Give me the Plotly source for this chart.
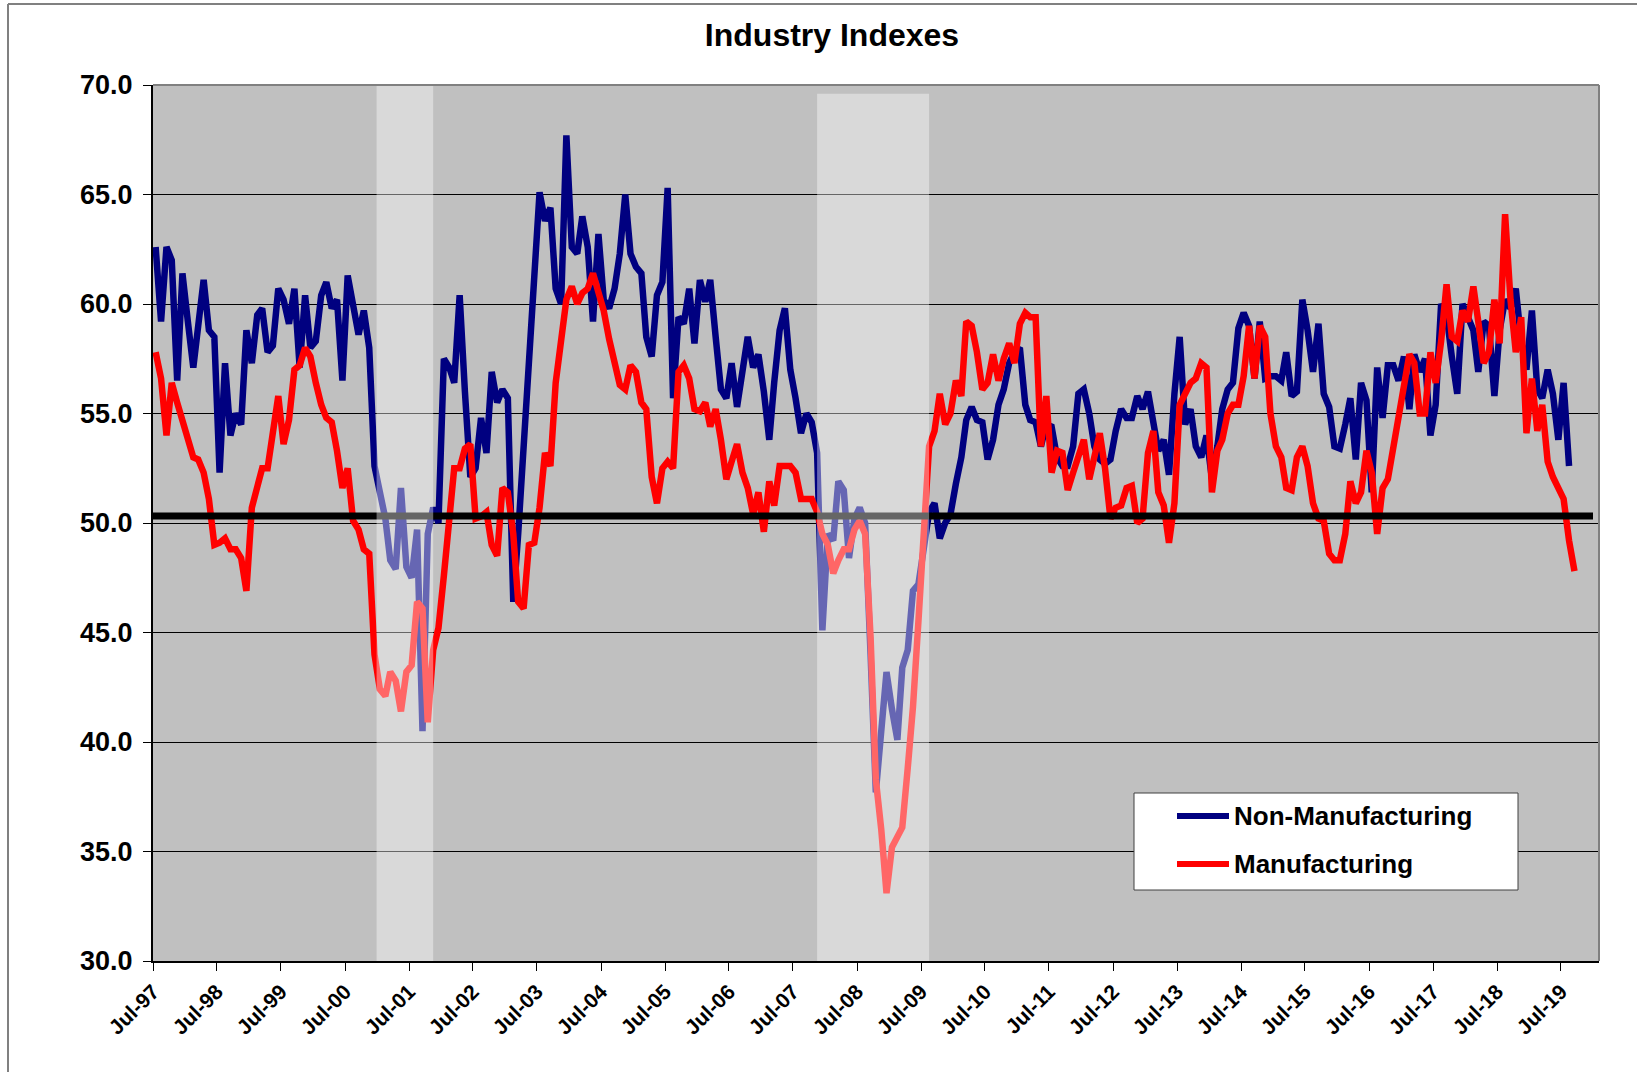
import pandas as pd
import plotly.graph_objects as go

# ---------------- data ----------------
start_month = "1997-07-01"

non_mfg = [
    62.6, 59.2, 62.6, 62.0, 56.5, 61.4, 59.2, 57.1, 59.0, 61.1,
    58.8, 58.5, 52.3, 57.3, 54.0, 55.0, 54.5, 58.8, 57.3, 59.5,
    59.8, 57.8, 58.1, 60.7, 60.2, 59.1, 60.7, 57.1, 60.4, 58.0,
    58.3, 60.4, 61.0, 59.8, 60.2, 56.5, 61.3, 60.0, 58.6, 59.7,
    58.0, 52.6, 51.4, 50.2, 48.3, 47.9, 51.6, 48.0, 47.5, 49.7,
    40.5, 49.5, 50.7, 50.0, 57.5, 57.1, 56.4, 60.4, 56.0, 52.1,
    52.5, 54.8, 53.2, 56.9, 55.5, 56.1, 55.7, 46.4, 49.5, 53.5,
    57.5, 61.0, 65.1, 63.8, 64.4, 60.7, 60.0, 67.7, 62.6, 62.3,
    64.0, 62.6, 59.2, 63.2, 60.2, 59.8, 60.7, 62.3, 65.0, 62.3,
    61.7, 61.4, 58.5, 57.6, 60.4, 61.0, 65.3, 55.7, 59.4, 59.1,
    60.7, 58.2, 61.1, 60.1, 61.1, 58.5, 56.1, 55.7, 57.3, 55.3,
    57.2, 58.5, 57.1, 57.7, 56.0, 53.8, 56.4, 58.8, 59.8, 57.0,
    55.7, 54.1, 55.0, 54.6, 53.2, 45.1, 49.5, 49.2, 51.9, 51.5,
    48.4, 50.2, 50.7, 50.0, 44.0, 37.7, 40.5, 43.2, 41.5, 40.1,
    43.4, 44.2, 46.9, 47.2, 48.8, 50.5, 50.9, 49.3, 50.0, 50.4,
    51.8, 53.0, 54.7, 55.3, 54.7, 54.6, 52.9, 53.8, 55.4, 56.1,
    57.3, 57.8, 58.0, 55.4, 54.7, 54.6, 53.5, 54.5, 54.4, 53.0,
    52.6, 52.6, 53.5, 55.9, 56.1, 55.0, 53.5, 52.9, 52.7, 52.9,
    54.2, 55.2, 54.8, 54.8, 55.8, 55.2, 56.0, 54.7, 53.3, 53.8,
    52.2, 55.9, 58.5, 54.5, 55.2, 53.5, 53.0, 54.0, 52.0, 53.5,
    55.2, 56.1, 56.4, 58.9, 59.6, 59.0, 56.6, 59.2, 56.6, 56.7,
    56.7, 56.5, 57.8, 55.8, 56.0, 60.2, 58.8, 56.9, 59.1, 55.9,
    55.3, 53.5, 53.4, 54.5, 55.7, 52.9, 56.4, 55.6, 51.4, 57.1,
    54.8, 57.2, 57.2, 56.5, 57.6, 55.2, 57.7, 56.9, 57.5, 54.0,
    55.4, 60.0, 59.5, 57.6, 55.9, 60.0, 59.4, 58.8, 56.9, 59.2,
    59.0, 55.8, 58.8, 60.2, 59.8, 60.7, 58.3, 57.0, 59.7, 56.1,
    55.7, 57.0, 55.9, 53.8, 56.4, 52.6,
]

mfg = [
    57.8, 56.6, 54.0, 56.4, 55.5, 54.7, 53.8, 53.0, 52.9, 52.3,
    51.1, 49.0, 49.1, 49.3, 48.8, 48.8, 48.4, 46.9, 50.7, 51.6,
    52.5, 52.5, 54.2, 55.8, 53.6, 54.7, 57.0, 57.2, 58.0, 57.6,
    56.4, 55.4, 54.8, 54.6, 53.3, 51.6, 52.5, 50.1, 49.7, 48.8,
    48.6, 44.0, 42.4, 42.1, 43.2, 42.8, 41.4, 43.2, 43.5, 46.4,
    46.1, 40.9, 44.2, 45.2, 47.6, 50.4, 52.5, 52.5, 53.4, 53.6,
    50.2, 50.3, 50.5, 49.0, 48.5, 51.6, 51.4, 49.5, 46.4, 46.1,
    49.0, 49.1, 50.7, 53.2, 52.6, 56.4, 58.5, 60.2, 60.8, 60.0,
    60.5, 60.7, 61.4, 60.5, 59.7, 58.4, 57.2, 56.3, 56.1, 57.2,
    56.9, 55.5, 55.2, 52.1, 50.9, 52.5, 52.8, 52.5, 56.9, 57.2,
    56.6, 55.2, 55.1, 55.5, 54.4, 55.2, 53.8, 52.0, 52.8, 53.6,
    52.3, 51.6, 50.4, 51.4, 49.6, 51.9, 50.8, 52.6, 52.6, 52.6,
    52.3, 51.1, 51.1, 51.1, 50.5, 49.5, 49.0, 47.7, 48.3, 48.8,
    48.8, 49.7, 50.1, 49.5, 44.8, 38.3, 36.0, 33.1, 35.2, 35.6,
    36.1, 38.8, 41.6, 45.5, 49.5, 53.5, 54.2, 55.9, 54.5, 55.0,
    56.5, 55.8, 59.2, 59.0, 57.8, 56.1, 56.4, 57.7, 56.5, 57.5,
    58.2, 57.3, 59.1, 59.6, 59.4, 59.4, 53.5, 55.8, 52.3, 53.3,
    53.2, 51.5, 52.3, 53.0, 53.8, 52.0, 53.0, 54.1, 52.5, 50.2,
    50.7, 50.8, 51.6, 51.7, 50.0, 50.2, 53.2, 54.2, 51.4, 50.8,
    49.1, 50.9, 55.4, 55.9, 56.4, 56.6, 57.3, 57.1, 51.4, 53.3,
    53.8, 55.0, 55.4, 55.4, 56.7, 59.0, 56.6, 59.0, 58.5, 55.0,
    53.5, 53.0, 51.6, 51.5, 53.0, 53.5, 52.6, 50.9, 50.2, 50.1,
    48.6, 48.3, 48.3, 49.5, 51.9, 50.9, 51.4, 53.3, 52.3, 49.5,
    51.6, 52.0, 53.4, 54.8, 56.0, 57.7, 57.3, 55.0, 55.0, 57.8,
    56.4, 58.3, 60.9, 58.5, 58.3, 59.7, 59.2, 60.8, 59.2, 57.3,
    57.8, 60.2, 58.2, 64.1, 60.2, 57.8, 59.4, 54.1, 56.6, 54.2,
    55.4, 52.8, 52.1, 51.6, 51.1, 49.2, 47.8,
]

series_names = ["Non-Manufacturing", "Manufacturing"]
series_colors = ["#000080", "#FF0000"]

tick_years = list(range(1997, 2020))
tick_labels = [f"Jul-{y % 100:02d}" for y in tick_years]

# shaded recession bands: (start, end, top value)
recessions = [
    ("2000-12-28", "2001-11-16", 70.0),
    ("2007-11-16", "2009-08-16", 69.6),
]
threshold = 50.32

# ---------------- geometry (pixels in the 1637x1072 page) ----------------
W, H = 1637, 1072
L, R, T, B = 153, 1599, 85, 961          # plot-area edges
PW, PH = R - L, B - T


def px(x):
    return (x - L) / PW


def py(y):
    return 1 - (y - T) / PH


FONT = "Liberation Sans, Arial, sans-serif"

# ---------------- figure ----------------
months_nm = pd.date_range(start_month, periods=len(non_mfg), freq="MS") + pd.Timedelta(days=15)
months_m = pd.date_range(start_month, periods=len(mfg), freq="MS") + pd.Timedelta(days=15)
tickvals = [pd.Timestamp(f"{y}-07-01") for y in tick_years]

fig = go.Figure()
for xs, ys, name, color in [(months_nm, non_mfg, series_names[0], series_colors[0]),
                            (months_m, mfg, series_names[1], series_colors[1])]:
    fig.add_trace(go.Scatter(x=xs, y=ys, mode="lines", name=name,
                             line=dict(color=color, width=6.5)))

shapes = [
    dict(type="line", xref="paper", yref="y", x0=0, x1=px(1593), y0=threshold, y1=threshold,
         line=dict(color="black", width=7), layer="above"),
]
for s, e, top in recessions:
    shapes.append(dict(type="rect", xref="x", yref="y", x0=s, x1=e, y0=30, y1=top,
                       fillcolor="rgba(255,255,255,0.4)", line=dict(width=0), layer="above"))
shapes += [
    # plot-area top / right frame
    dict(type="line", xref="paper", yref="paper", x0=0, x1=1, y0=1, y1=1,
         line=dict(color="#808080", width=2), layer="above"),
    dict(type="line", xref="paper", yref="paper", x0=1, x1=1, y0=0, y1=1,
         line=dict(color="#808080", width=2), layer="above"),
    # outer chart-area frame (left and top edges visible)
    dict(type="line", xref="paper", yref="paper", x0=px(8), x1=px(8), y0=py(1200), y1=py(4),
         line=dict(color="#808080", width=2), layer="above"),
    dict(type="line", xref="paper", yref="paper", x0=px(8), x1=px(1800), y0=py(4), y1=py(4),
         line=dict(color="#808080", width=2), layer="above"),
    # legend box
    dict(type="rect", xref="paper", yref="paper", x0=px(1134), x1=px(1518), y0=py(890), y1=py(793),
         fillcolor="white", line=dict(color="#404040", width=1), layer="above"),
]
annotations = []
for row_y, name, color in [(816, series_names[0], series_colors[0]),
                           (864, series_names[1], series_colors[1])]:
    shapes.append(dict(type="line", xref="paper", yref="paper", x0=px(1177), x1=px(1229),
                       y0=py(row_y), y1=py(row_y), line=dict(color=color, width=6), layer="above"))
    annotations.append(dict(xref="paper", yref="paper", x=px(1232), y=py(row_y),
                            xanchor="left", yanchor="middle", showarrow=False, text=name,
                            font=dict(family=FONT, size=26, weight="bold", color="black")))

fig.update_layout(
    width=W, height=H,
    margin=dict(l=L, r=W - R, t=T, b=H - B),
    paper_bgcolor="white", plot_bgcolor="#C0C0C0",
    font=dict(family=FONT, color="black"),
    title=dict(text="Industry Indexes", x=832 / W, xref="container", xanchor="center",
               y=1 - 34.5 / H, yanchor="middle",
               font=dict(family=FONT, size=32, weight="bold", color="black")),
    showlegend=False,
    shapes=shapes,
    annotations=annotations,
    hovermode=False,
)
fig.update_xaxes(
    type="date", range=["1997-07-01", "2020-02-03"],
    tickvals=tickvals, ticktext=tick_labels, tickangle=-45,
    tickfont=dict(family=FONT, size=21, weight="bold", color="black"),
    ticks="outside", ticklen=8, tickcolor="black", tickwidth=1,
    showline=True, linecolor="black", linewidth=2,
    showgrid=False, zeroline=False,
)
fig.update_yaxes(
    range=[30, 70], tick0=30, dtick=5, tickformat=".1f",
    tickfont=dict(family=FONT, size=27, weight="bold", color="black"),
    ticks="outside", ticklen=8, tickcolor="black", tickwidth=1,
    ticklabelstandoff=5,
    showline=True, linecolor="black", linewidth=2,
    showgrid=True, gridcolor="#000000", gridwidth=1, zeroline=False,
)

fig.write_html("out.html", config={"displayModeBar": False},
               post_script="document.body.style.margin='0';")
